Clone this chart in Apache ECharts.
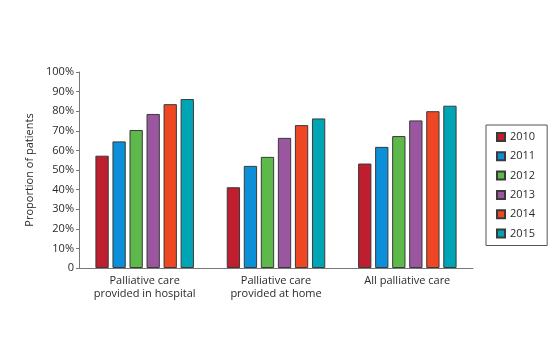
<!DOCTYPE html>
<html lang="en">
<head>
    <meta charset="UTF-8">
    <title>Proportion of patients</title>
    <script src="https://cdn.jsdelivr.net/npm/echarts@6/dist/echarts.min.js"></script>
    <style>
        html, body { margin: 0; padding: 0; background: #fff; }
        #main { width: 555px; height: 353px; }
    </style>
</head>
<body>
<div id="main"></div>
<script>
    // data
    var categories = ['Palliative care\nprovided in hospital', 'Palliative care\nprovided at home', 'All palliative care'];
    var years = ['2010', '2011', '2012', '2013', '2014', '2015'];
    var colors = ['#be1e2d', '#0a8fd8', '#5cb94a', '#9b56a0', '#ef4724', '#00a5b5'];
    var v2010 = [57.3, 41.2, 53.3];
    var v2011 = [64.6, 52.1, 61.8];
    var v2012 = [70.4, 56.7, 67.3];
    var v2013 = [78.6, 66.4, 75.3];
    var v2014 = [83.6, 72.9, 80.0];
    var v2015 = [86.2, 76.3, 82.8];
    var values = [v2010, v2011, v2012, v2013, v2014, v2015];

    var font = '"Open Sans", Lato, sans-serif';
    var myChart = echarts.init(document.getElementById('main'));

    var series = years.map(function (y, i) {
        return {
            name: y,
            type: 'bar',
            data: values[i],
            barGap: '28%',
            barCategoryGap: '25%',
            itemStyle: {
                color: colors[i],
                borderColor: '#3a3a3a',
                borderWidth: 1
            }
        };
    });

    myChart.setOption({
        animation: false,
        textStyle: { fontFamily: font },
        grid: { left: 79, top: 72, right: 82, bottom: 85, containLabel: false },
        legend: {
            orient: 'vertical',
            left: 486,
            top: 125,
            width: 60,
            padding: [6, 12, 6, 10],
            borderColor: '#555',
            borderWidth: 1,
            itemWidth: 8,
            itemHeight: 8,
            itemGap: 7.3,
            icon: 'rect',
            textStyle: { fontSize: 11, color: '#2a2a2a', lineHeight: 12, fontFamily: font },
            data: years
        },
        xAxis: {
            type: 'category',
            data: categories,
            axisLine: { lineStyle: { color: '#777', width: 1 } },
            axisTick: { show: false },
            axisLabel: { color: '#2a2a2a', fontSize: 11, lineHeight: 13.3, margin: 6, interval: 0, fontFamily: font }
        },
        yAxis: {
            type: 'value',
            min: 0,
            max: 100,
            interval: 10,
            name: 'Proportion of patients',
            nameLocation: 'middle',
            nameGap: 37,
            nameTextStyle: { color: '#2a2a2a', fontSize: 11, fontFamily: font },
            axisLine: { show: true, lineStyle: { color: '#777', width: 1 } },
            axisTick: { show: true, length: 3, lineStyle: { color: '#777' } },
            splitLine: { show: false },
            axisLabel: {
                color: '#2a2a2a', fontSize: 11, margin: 5, fontFamily: font,
                formatter: function (v) { return v === 0 ? '0' : v + '%'; }
            }
        },
        series: series
    });
</script>
</body>
</html>
